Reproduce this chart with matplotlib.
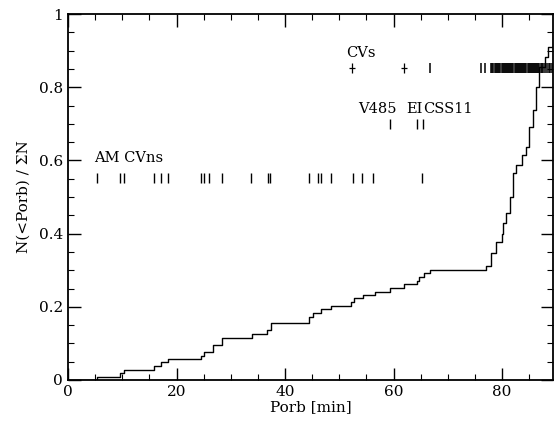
import matplotlib
matplotlib.use("Agg")
import matplotlib.pyplot as plt
from matplotlib.ticker import MultipleLocator

plt.rcParams['font.family'] = ['DejaVu Serif']

# cumulative distribution
curve_x = [5.4, 9.5, 10.4, 15.8, 17.1, 18.5, 24.5, 25.0, 26.8, 28.3, 33.9, 36.7, 37.4,
           44.5, 45.1, 46.7, 48.5, 52.2, 52.8, 54.3, 56.5, 59.3, 61.9, 64.3, 64.7,
           65.6, 66.8, 77.0, 78.0, 78.9, 79.9, 80.2, 80.8, 81.4, 82.0, 82.6, 83.6,
           84.5, 85.0, 85.7, 86.3, 86.9, 87.9, 88.5, 89.3, 90.0]
curve_y = [0.009, 0.018, 0.027, 0.038, 0.048, 0.057, 0.066, 0.077, 0.096, 0.116, 0.126,
           0.137, 0.155, 0.173, 0.184, 0.193, 0.203, 0.214, 0.223, 0.232, 0.241, 0.252,
           0.261, 0.270, 0.282, 0.292, 0.301, 0.311, 0.346, 0.378, 0.400, 0.428, 0.455,
           0.500, 0.565, 0.587, 0.615, 0.637, 0.692, 0.738, 0.800, 0.856, 0.883, 0.911,
           0.947, 0.955]

# AM CVn periods [min]
amcvn_p = [5.4, 9.5, 10.4, 15.9, 17.1, 18.4, 24.5, 25.0, 26.0, 28.3, 33.8, 36.9, 37.3,
           44.5, 46.0, 46.6, 48.4, 52.6, 54.2, 56.3, 65.2]
# hydrogen CVs [min]
cv_plus = [52.4, 62.0]
cv_p = [66.8, 76.2, 76.9, 78.0, 78.2, 78.4, 78.7, 78.9, 79.1, 79.3, 79.5, 79.7, 79.9,
        80.1, 80.3, 80.5, 80.7, 80.9, 81.1, 81.3, 81.5, 81.7, 81.9, 82.1, 82.3, 82.5,
        82.7, 82.9, 83.1, 83.3, 83.5, 83.7, 83.9, 84.1, 84.3, 84.5, 84.7, 84.9, 85.1,
        85.3, 85.5, 85.7, 85.9, 86.1, 86.3, 86.5, 86.7, 86.9, 87.1, 87.3, 87.5, 87.9,
        88.3, 88.6, 88.9, 89.2]
# individual objects
v485_p = [59.3]
ei_css_p = [64.3, 65.4]

fig = plt.figure(figsize=(5.55, 4.23), dpi=100)
ax = fig.add_axes([0.1225, 0.1017, 0.874, 0.865])

ax.step([0] + curve_x, [0] + curve_y, where='post', color='black', lw=1.0)

ax.plot(amcvn_p, [0.552] * len(amcvn_p), ls='none', marker='|', ms=7.5, mew=1.0, color='black')
ax.plot(cv_p, [0.852] * len(cv_p), ls='none', marker='|', ms=7.5, mew=1.1, color='black')
ax.plot(cv_plus, [0.852] * len(cv_plus), ls='none', marker='|', ms=7.5, mew=0.9, color='black')
ax.plot(cv_plus, [0.852] * len(cv_plus), ls='none', marker='_', ms=4.5, mew=0.9, color='black')
ax.plot(v485_p + ei_css_p, [0.70] * 3, ls='none', marker='|', ms=7.5, mew=1.0, color='black')

ax.text(4.9, 0.607, "AM CVns", fontsize=10.5, va='center')
ax.text(51.3, 0.895, "CVs", fontsize=10.5, va='center')
ax.text(53.4, 0.74, "V485", fontsize=10.5, va='center')
ax.text(62.3, 0.74, "EI", fontsize=10.5, va='center')
ax.text(65.4, 0.74, "CSS11", fontsize=10.5, va='center')

ax.set_xlim(0, 89.4)
ax.set_ylim(0, 1)
ax.xaxis.set_minor_locator(MultipleLocator(5))
ax.yaxis.set_minor_locator(MultipleLocator(0.05))
ax.set_xticks([0, 20, 40, 60, 80])
ax.set_xticklabels(['0', '20', '40', '60', '80'])
ax.set_yticks([0, 0.2, 0.4, 0.6, 0.8, 1])
ax.set_yticklabels(['0', '0.2', '0.4', '0.6', '0.8', '1'])
ax.tick_params(which='both', direction='in', top=True, right=True, labelsize=11)
ax.tick_params(which='major', length=9, width=1.0)
ax.tick_params(which='minor', length=4.5, width=0.8)
for s in ax.spines.values():
    s.set_linewidth(1.3)

ax.set_xlabel("Porb [min]", fontsize=11, labelpad=1)
ax.set_ylabel("N(<Porb) / ΣN", fontsize=11, labelpad=6)

fig.savefig("out.png", dpi=100)
